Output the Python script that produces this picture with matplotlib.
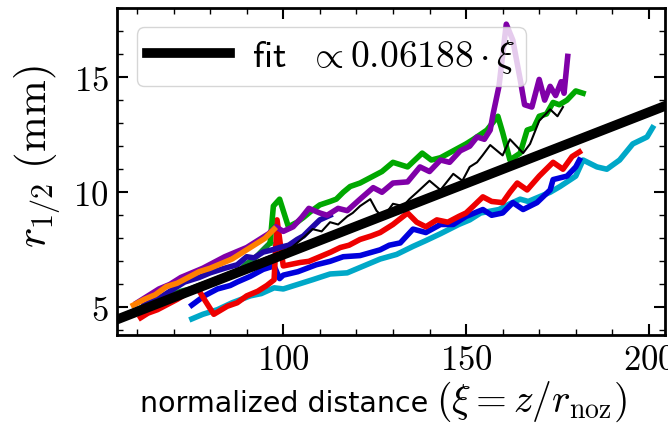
import matplotlib
matplotlib.use("Agg")
import matplotlib.pyplot as plt
from matplotlib.ticker import MultipleLocator, FuncFormatter
import numpy as np

plt.rcParams['mathtext.fontset'] = 'cm'
plt.rcParams['font.family'] = ['DejaVu Sans']

# ---- data ----
fit_slope = 0.06188
fit_offset = 1.1
fit_xi = [54.5, 205.0]

orange_xi = [59, 62, 65, 68, 71, 74, 77, 80, 83, 86, 89, 92, 95, 97.5]
orange_r = [5.1, 5.35, 5.55, 5.9, 6.05, 6.3, 6.55, 6.7, 6.9, 7.1, 7.4, 7.7, 8.0, 8.4]

purple_xi = [60, 63, 66, 69, 72, 75, 78, 81, 84, 87, 90, 93, 96, 98, 100, 102.7, 105, 107,
             110, 112, 115, 117.5, 121, 124.6, 127, 130, 134, 137.4, 140, 143, 145.5, 148.4,
             151, 153, 155, 156.6, 157.4, 159, 161, 162.8, 164.8, 166, 168, 170, 171.5, 173,
             174.5, 176, 176.8, 177.8]
purple_r = [5.2, 5.5, 5.8, 6.0, 6.3, 6.5, 6.7, 6.95, 7.2, 7.4, 7.6, 7.9, 8.2, 8.5, 8.3, 8.5,
            8.9, 9.3, 9.1, 9.0, 9.3, 9.2, 9.7, 10.2, 10.0, 10.4, 10.45, 11.1, 10.9, 11.4, 11.3,
            11.8, 12.0, 12.4, 12.3, 12.7, 13.4, 14.6, 17.3, 16.6, 14.9, 13.8, 13.7, 14.9, 14.0,
            14.6, 14.2, 14.8, 14.3, 15.9]

darkgreen_xi = [60, 63.7, 66, 69, 72, 74.6, 77, 80, 82.5, 84.7, 87.4, 90, 92, 94.5, 96.4]
darkgreen_r = [4.9, 5.2, 5.3, 5.5, 5.7, 5.8, 5.95, 6.1, 6.2, 6.3, 6.5, 6.9, 7.1, 7.5, 7.8]

green_xi = [96.4, 97.3, 99, 101.4, 103.8, 105.5, 107.4, 110, 112.8, 114.5, 116.4, 118.3, 121,
            124.6, 127, 130, 134, 138, 140.5, 143, 146.5, 150, 152, 155.7, 158.7, 160, 162,
            164.8, 166.7, 168.5, 170, 172, 173.8, 175.5, 177.6, 180, 182]
green_r = [7.8, 9.4, 9.7, 8.5, 8.7, 8.9, 9.15, 9.45, 9.6, 9.7, 10.0, 10.25, 10.4, 10.7, 10.9,
           11.3, 11.1, 11.7, 11.4, 11.5, 11.8, 12.1, 12.3, 12.7, 13.3, 12.6, 11.4, 11.7, 12.7,
           12.8, 13.3, 13.4, 13.9, 13.8, 14.0, 14.4, 14.3]

navy_xi = [62, 66, 70, 73, 77, 80, 84, 87.4, 90, 92, 94.5, 97, 99, 101.5, 103.8, 105.5, 107.4,
           110, 112.8]
navy_r = [5.1, 5.4, 5.8, 6.1, 6.3, 6.5, 6.7, 6.85, 7.2, 7.15, 7.4, 7.5, 7.6, 7.7, 7.95, 8.1,
          8.4, 8.8, 9.0]

black_xi = [57, 60, 64, 68, 72, 76, 80, 84, 88, 92, 96, 99, 101.5, 103.8, 106, 108, 110.5,
            112.8, 115, 117.5, 119, 121, 123.8, 125.5, 127.3, 130, 132.8, 134.5, 136.6, 140,
            143, 146.5, 149, 151, 153, 154.5, 156.6, 160, 162, 165.6, 167.5, 170, 173, 175,
            176.5]
black_r = [4.7, 4.9, 5.15, 5.4, 5.65, 5.95, 6.2, 6.45, 6.7, 6.95, 7.2, 7.35, 7.5, 7.8, 8.1,
           8.4, 8.3, 8.7, 8.6, 8.95, 9.1, 9.4, 9.7, 9.2, 8.9, 9.5, 9.4, 9.7, 10.0, 10.5, 10.1,
           10.8, 10.5, 11.1, 11.3, 11.6, 12.05, 11.6, 12.3, 11.7, 12.1, 13.1, 13.6, 13.3, 13.7]

blue_xi = [75, 78.4, 82, 85.5, 87.4, 91, 94.5, 97.5, 99, 100, 104, 109, 112.8, 116.4, 121,
           126.5, 129, 132, 135.5, 139, 143, 146.5, 150, 154.6, 157, 160, 162.8, 165.6, 169.4,
           173, 173.8, 177.6, 180, 181]
blue_r = [5.1, 5.5, 5.8, 5.95, 6.1, 6.35, 6.65, 6.8, 6.25, 6.4, 6.55, 6.85, 7.0, 7.2, 7.25,
          7.5, 7.7, 7.8, 8.4, 8.25, 8.6, 8.6, 8.95, 9.25, 9.0, 9.1, 9.55, 9.25, 9.55, 10.1,
          10.55, 10.7, 11.1, 11.4]

cyan_xi = [75, 78, 82, 86, 91, 94, 97.5, 100, 104, 108, 112.8, 117.5, 122, 126.5, 131, 135.5,
           139, 143, 148, 151, 154, 159, 162, 164.8, 167, 170, 173, 175.7, 180, 182, 185.8,
           188.5, 192, 195.6, 199.5, 201]
cyan_r = [4.5, 4.7, 4.9, 5.2, 5.5, 5.6, 5.85, 5.8, 6.0, 6.2, 6.45, 6.5, 6.8, 7.1, 7.3, 7.65,
          7.9, 8.2, 8.6, 8.8, 9.1, 9.25, 9.5, 9.7, 9.6, 9.8, 10.0, 10.25, 10.7, 11.4, 11.1,
          11.0, 11.4, 12.1, 12.4, 12.8]

red_xi = [61, 63, 65.6, 68, 71, 73.5, 76.5, 78.4, 81, 84.7, 87.4, 90, 93, 95.5, 97.5, 98.3,
          100, 104.6, 107, 110, 113, 115.6, 118, 121, 124, 126.5, 130, 134, 136.5, 139, 142,
          145, 148, 150, 152, 154.6, 157, 160, 162, 164, 166.7, 170, 173.8, 176.5, 179, 181]
red_r = [4.55, 4.75, 4.9, 5.1, 5.35, 5.6, 5.85, 5.35, 4.7, 5.05, 5.2, 5.5, 5.7, 5.95, 6.2,
         8.8, 6.8, 6.95, 7.0, 7.2, 7.4, 7.6, 7.7, 7.95, 8.1, 8.25, 8.6, 9.1, 8.7, 8.5, 8.8,
         8.7, 8.95, 9.1, 9.4, 9.8, 9.6, 9.55, 10.0, 10.4, 10.1, 10.7, 11.3, 11.0, 11.55, 11.75]

x_ticks = [100, 150, 200]
y_ticks = [5, 10, 15]

# ---- figure ----
fig = plt.figure(figsize=(6.68, 4.23), dpi=100)
ax = fig.add_axes([0.175, 0.208, 0.821, 0.773])

lw = 4.0
ax.plot(cyan_xi, cyan_r, color='#00a8c8', lw=lw, solid_joinstyle='round')
ax.plot(blue_xi, blue_r, color='#0000dd', lw=lw, solid_joinstyle='round')
ax.plot(red_xi, red_r, color='#ee0000', lw=lw, solid_joinstyle='round')
ax.plot(darkgreen_xi, darkgreen_r, color='#108a30', lw=lw, solid_joinstyle='round')
ax.plot(navy_xi, navy_r, color='#2008a8', lw=lw, solid_joinstyle='round')
ax.plot(green_xi, green_r, color='#00a800', lw=lw, solid_joinstyle='round')
ax.plot(purple_xi, purple_r, color='#8000a8', lw=lw, solid_joinstyle='round')
ax.plot(orange_xi, orange_r, color='#ff8000', lw=lw, solid_joinstyle='round')
ax.plot(black_xi, black_r, color='black', lw=1.5)

fx = np.array(fit_xi)
ax.plot(fx, fit_slope * fx + fit_offset, color='black', lw=7,
        label=r'$\mathsf{fit}\ \ \propto 0.06188 \cdot \xi$')

ax.set_xlim(54.5, 204.5)
ax.set_ylim(3.8, 18.0)

ax.set_xticks(x_ticks)
ax.set_yticks(y_ticks)
ax.xaxis.set_minor_locator(MultipleLocator(10))
ax.yaxis.set_minor_locator(MultipleLocator(1))
fmt = FuncFormatter(lambda v, p: r'$%g$' % v)
ax.xaxis.set_major_formatter(fmt)
ax.yaxis.set_major_formatter(fmt)

ax.tick_params(which='both', direction='in', top=True, right=True)
ax.tick_params(which='major', length=8, width=1.5, labelsize=25, pad=6)
ax.tick_params(which='minor', length=4, width=1)
for s in ax.spines.values():
    s.set_linewidth(2)

# x label: sans part + larger math part
fig.text(428 / 668, 1 - 412 / 423, 'normalized distance', fontsize=20.5,
         ha='right', va='baseline')
fig.text(436 / 668, 1 - 412 / 423, r'$(\xi = z/r_{\rm noz})$', fontsize=28.5,
         ha='left', va='baseline')

ax.set_ylabel(r'$r_{1/2}\ (\mathrm{mm})$', fontsize=31)
ax.yaxis.set_label_coords(-0.10, 0.545)

leg = ax.legend(loc='upper left', bbox_to_anchor=(0.036, 0.942), borderaxespad=0,
                fontsize=27, handlelength=2.2, framealpha=0.8, edgecolor='0.8',
                fancybox=True, borderpad=0.28, handletextpad=0.6)

fig.savefig('out.png', dpi=100)
